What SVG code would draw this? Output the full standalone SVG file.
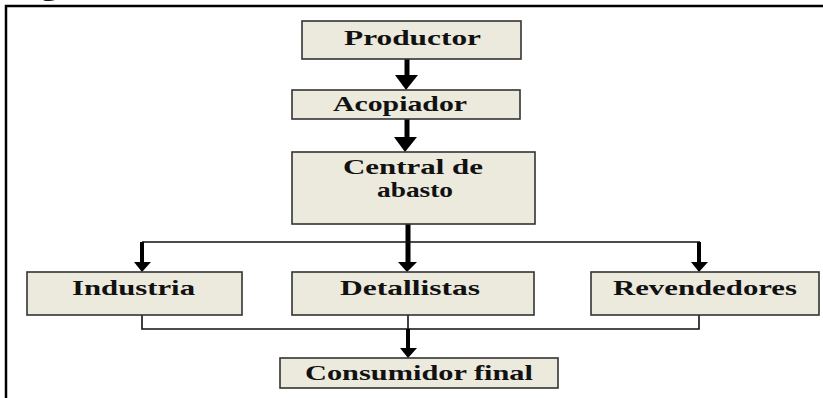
<svg xmlns="http://www.w3.org/2000/svg" width="823" height="398" viewBox="0 0 823 398">
<defs>
<style>
.box{fill:#ece9dd;stroke:#333;stroke-width:1.6}
.t{font-family:"Liberation Serif","Times New Roman",serif;font-weight:bold;font-size:21px;fill:#111}
.thin{fill:none;stroke:#111;stroke-width:1.6}
.thick{fill:none;stroke:#000;stroke-width:5}
.mid{fill:none;stroke:#000;stroke-width:4}
.head{fill:#000}
</style>
</defs>
<rect x="0" y="0" width="823" height="398" fill="#fff"/>
<text class="t" x="14" y="-4" textLength="830" lengthAdjust="spacingAndGlyphs">Figura 4. Canales de comercialización de la semilla de calabaza</text>
<rect x="6" y="6" width="830" height="400" fill="none" stroke="#000" stroke-width="2.5"/>

<g id="connectors">
  <line class="thick" x1="407" y1="59" x2="407" y2="76"/>
  <polygon class="head" points="395,75 418,75 406,90"/>
  <line class="thick" x1="407" y1="119" x2="407" y2="138"/>
  <polygon class="head" points="394,137 417,137 405,152"/>
  <line class="thick" x1="408" y1="224" x2="408" y2="263"/>
  <polygon class="head" points="398,262 417,262 407,272"/>
  <line class="thin" x1="142" y1="242" x2="700" y2="242"/>
  <line class="mid" x1="142" y1="242" x2="142" y2="263"/>
  <polygon class="head" points="134,262 151,262 142,272"/>
  <line class="mid" x1="699" y1="242" x2="699" y2="263"/>
  <polygon class="head" points="691,262 708,262 699,272"/>
  <polyline class="thin" points="142,315 142,329 699,329 699,315"/>
  <line class="thin" x1="408" y1="315" x2="408" y2="330"/>
  <line class="mid" x1="408" y1="329" x2="408" y2="349"/>
  <polygon class="head" points="400,348 417,348 408,358"/>
</g>

<g id="productor">
  <rect class="box" x="302" y="21" width="219" height="38"/>
  <text class="t" x="344" y="45" textLength="137" lengthAdjust="spacingAndGlyphs">Productor</text>
</g>
<g id="acopiador">
  <rect class="box" x="292" y="90" width="228" height="29"/>
  <text class="t" x="333" y="111" textLength="134" lengthAdjust="spacingAndGlyphs">Acopiador</text>
</g>
<g id="central">
  <rect class="box" x="292" y="152" width="243" height="72"/>
  <text class="t" x="343" y="174" textLength="140" lengthAdjust="spacingAndGlyphs">Central de</text>
  <text class="t" x="377" y="197" textLength="76" lengthAdjust="spacingAndGlyphs">abasto</text>
</g>
<g id="industria">
  <rect class="box" x="27" y="272" width="215" height="43"/>
  <text class="t" x="72" y="295" textLength="123" lengthAdjust="spacingAndGlyphs">Industria</text>
</g>
<g id="detallistas">
  <rect class="box" x="292" y="272" width="242" height="43"/>
  <text class="t" x="340" y="295" textLength="140" lengthAdjust="spacingAndGlyphs">Detallistas</text>
</g>
<g id="revendedores">
  <rect class="box" x="591" y="272" width="228" height="43"/>
  <text class="t" x="613" y="295" textLength="184" lengthAdjust="spacingAndGlyphs">Revendedores</text>
</g>
<g id="consumidor">
  <rect class="box" x="280" y="358" width="278" height="30"/>
  <text class="t" x="305" y="380" textLength="228" lengthAdjust="spacingAndGlyphs">Consumidor final</text>
</g>
</svg>
